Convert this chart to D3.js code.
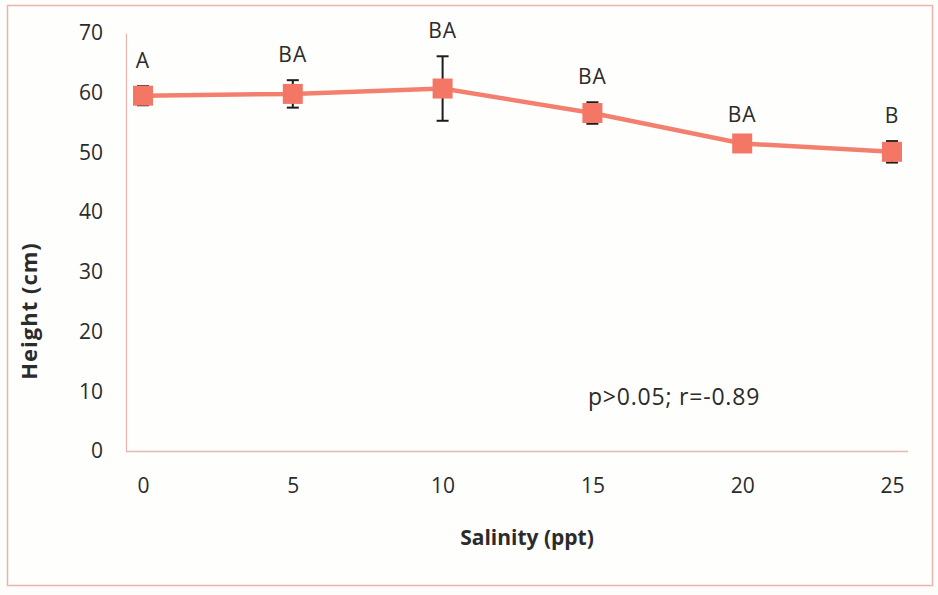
<!DOCTYPE html>
<html>
<head>
<meta charset="utf-8">
<script src="https://cdn.jsdelivr.net/npm/d3@7/dist/d3.min.js"></script>
<style>
  html, body { margin: 0; padding: 0; background: #fdfdfc; }
  svg { display: block; }
  text { font-family: "Open Sans", "Noto Sans", sans-serif; fill: #2b2b2b; }
</style>
</head>
<body>
<svg id="chart" width="938" height="595"></svg>
<script>
// Plant height by salinity treatment
const salinity = [0, 5, 10, 15, 20, 25];
const heightMean = [59.5, 59.8, 60.7, 56.6, 51.5, 50.1];
const heightErr = [1.6, 2.3, 5.4, 1.8, 0.6, 1.8];
const groupLetters = ["A", "BA", "BA", "BA", "BA", "B"];
const yTicks = [0, 10, 20, 30, 40, 50, 60, 70];
const statsNote = "p>0.05; r=-0.89";

const svg = d3.select("#chart");

// Outer chart frame
svg.append("rect")
  .attr("x", 7.5).attr("y", 5.5)
  .attr("width", 925).attr("height", 580)
  .attr("fill", "#fefefd")
  .attr("stroke", "#eab4aa").attr("stroke-width", 1.5);

const plot = { left: 126, right: 908, top: 33, bottom: 451 };

const x = d3.scaleLinear().domain([0, 25]).range([143, 892]);
const y = d3.scaleLinear().domain([0, 70]).range([plot.bottom, plot.top]);

// Y axis
const yAxis = svg.append("g")
  .attr("transform", `translate(${plot.left},0)`)
  .call(d3.axisLeft(y).tickValues(yTicks).tickSize(0).tickPadding(23).tickSizeOuter(0));
yAxis.select(".domain").attr("stroke", "#e3b9b2").attr("stroke-width", 1.3);
yAxis.selectAll("text").style("font-size", "21px").attr("fill", "#2b2b2b");

// X axis baseline
svg.append("line")
  .attr("x1", plot.left).attr("x2", plot.right)
  .attr("y1", plot.bottom + 0.5).attr("y2", plot.bottom + 0.5)
  .attr("stroke", "#e3b9b2").attr("stroke-width", 1.3);

const xAxis = svg.append("g")
  .attr("transform", `translate(0,${plot.bottom})`)
  .call(d3.axisBottom(x).tickValues(salinity).tickSize(0).tickPadding(27));
xAxis.select(".domain").remove();
xAxis.selectAll("text").style("font-size", "21px").attr("fill", "#2b2b2b");

// Axis titles
svg.append("text")
  .attr("x", 527).attr("y", 545)
  .attr("text-anchor", "middle")
  .style("font-size", "21px").style("font-weight", "bold")
  .text("Salinity (ppt)");

svg.append("text")
  .attr("transform", "translate(37,311) rotate(-90)")
  .attr("text-anchor", "middle")
  .style("font-size", "22px").style("font-weight", "bold")
  .style("letter-spacing", "1px")
  .text("Height (cm)");

const data = salinity.map((s, i) => ({ s, m: heightMean[i], e: heightErr[i], g: groupLetters[i] }));

// Line
svg.append("path")
  .datum(data)
  .attr("fill", "none")
  .attr("stroke", "#f3806f")
  .attr("stroke-width", 4.5)
  .attr("d", d3.line().x(d => x(d.s)).y(d => y(d.m)));

// Error bars
const eb = svg.append("g").attr("stroke", "#1c1c1c").attr("stroke-width", 2);
data.forEach(d => {
  const cx = x(d.s);
  eb.append("line").attr("x1", cx).attr("x2", cx).attr("y1", y(d.m + d.e)).attr("y2", y(d.m - d.e));
  eb.append("line").attr("x1", cx - 6).attr("x2", cx + 6).attr("y1", y(d.m + d.e)).attr("y2", y(d.m + d.e));
  eb.append("line").attr("x1", cx - 6).attr("x2", cx + 6).attr("y1", y(d.m - d.e)).attr("y2", y(d.m - d.e));
});

// Square markers
svg.append("g").selectAll("rect")
  .data(data).join("rect")
  .attr("x", d => x(d.s) - 10).attr("y", d => y(d.m) - 10)
  .attr("width", 20).attr("height", 20)
  .attr("fill", "#f47766");

// Group letters above each point
svg.append("g").selectAll("text")
  .data(data).join("text")
  .attr("x", d => x(d.s))
  .attr("y", d => y(d.m + d.e) - 18)
  .attr("text-anchor", "middle")
  .style("font-size", "21px")
  .style("letter-spacing", "1px")
  .text(d => d.g);

// Statistics note
svg.append("text")
  .attr("x", 674).attr("y", 405)
  .attr("text-anchor", "middle")
  .style("font-size", "23px")
  .style("letter-spacing", "0.8px")
  .text(statsNote);
</script>
</body>
</html>
